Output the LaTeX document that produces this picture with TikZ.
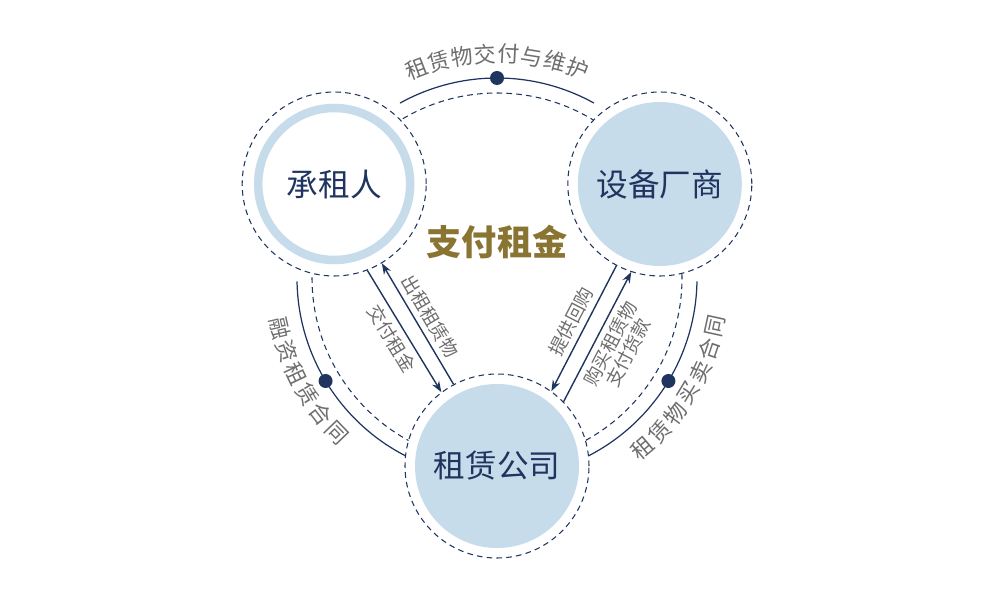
\documentclass[tikz,border=0pt]{standalone}
\usepackage{fontspec}
\setmainfont{Noto Sans CJK SC}
\usetikzlibrary{arrows.meta, calc}
\definecolor{navy}{HTML}{1F3560}
\definecolor{paleblue}{HTML}{C6DCEB}
\definecolor{labelgray}{HTML}{6E6E6E}
\definecolor{gold}{HTML}{8A7431}
\tikzset{%
  >={Stealth[width=1.6mm,length=2.2mm]},
  % Specifications for style of nodes:
        party/.style = {circle, draw=navy, dashed, dash pattern=on 3.2pt off 2.4pt,
                           fill=white, minimum size=3.68cm, inner sep=0pt,
                           line width=0.6pt, text=navy, font=\fontsize{18}{20}\selectfont},
        filled/.style = {party, path picture={\fill[paleblue]
                           (path picture bounding box.center) circle (1.64cm);}},
        ringed/.style = {party, path picture={\draw[paleblue, solid, line width=0.17cm]
                           (path picture bounding box.center) circle (1.52cm);}},
        arcline/.style = {draw=navy, line width=0.7pt},
        innerdash/.style = {draw=navy, dashed, dash pattern=on 3.2pt off 2.4pt, line width=0.6pt},
        arclabel/.style = {text=labelgray, inner sep=0pt, font=\fontsize{12.5}{13}\selectfont},
        flow/.style = {draw=navy, line width=0.8pt},
        flowlabel/.style = {text=labelgray, sloped, align=center, inner sep=3pt,
                           font=\fontsize{10.5}{11.5}\selectfont},
        dot/.style = {fill=navy}
}

\begin{document}
\begin{tikzpicture}
  \useasboundingbox (0,0) rectangle (20,11.8);
  \coordinate (c) at (9.94,6.24);
  % Ring of the three parties
  \draw[innerdash] (c) circle (3.7);
  \draw[arcline] ($(c)+(61:4)$) arc[start angle=61, end angle=119, radius=4];
  \draw[arcline] ($(c)+(181:4)$) arc[start angle=181, end angle=243, radius=4];
  \draw[arcline] ($(c)+(297:4)$) arc[start angle=297, end angle=359, radius=4];
  \fill[dot] ($(c)+(90:4)$) circle (0.14);
  \fill[dot] ($(c)+(211:4)$) circle (0.14);
  \fill[dot] ($(c)+(329:4)$) circle (0.14);

  \node (lessee)  [ringed] at ($(c)+(150:3.76)$) {承租人};
  \node (maker)   [filled] at ($(c)+(30:3.76)$) {设备厂商};
  \node (company) [filled] at ($(c)+(270:3.76)$) {租赁公司};
  \node (rent) [text=gold, font=\fontsize{20}{24}\bfseries] at (9.94,6.96) {支付租金};

  % Labels along the ring
  \foreach \ch [count=\i] in {租,赁,物,交,付,与,维,护}
    \node (top\i) [arclabel, rotate={111-(\i-1)*6-90}]
      at ($(c)+({111-(\i-1)*6}:4.48)$) {\ch};
  \foreach \ch [count=\i] in {融,资,租,赁,合,同}
    \node (left\i) [arclabel, rotate={193+(\i-1)*6.2+90}]
      at ($(c)+({193+(\i-1)*6.2}:4.45)$) {\ch};
  \foreach \ch [count=\i] in {租,赁,物,买,卖,合,同}
    \node (right\i) [arclabel, rotate={310.4+(\i-1)*6.2+90}]
      at ($(c)+({310.4+(\i-1)*6.2}:4.48)$) {\ch};

  % Flows between the parties
  \draw[flow, ->] (lessee.-69) -- node[flowlabel, below] {交付租金} (company.127);
  \draw[flow, <-] (lessee.-59) -- node[flowlabel, above] {出租租赁物} (company.118);
  \draw[flow, <-] (company.54) -- node[flowlabel, above] {提供回购} (maker.242);
  \draw[flow, ->] (company.44) -- node[flowlabel, below] {购买租赁物\\支付货款} (maker.252);
\end{tikzpicture}
\end{document}
